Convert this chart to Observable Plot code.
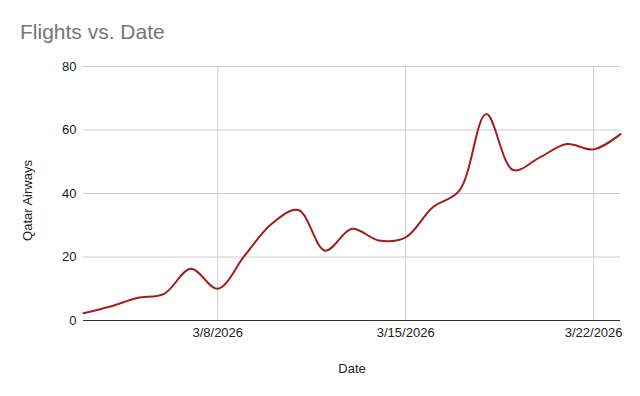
<!DOCTYPE html>
<html>
<head>
<meta charset="utf-8">
<script src="https://cdn.jsdelivr.net/npm/d3@7"></script>
<script src="https://cdn.jsdelivr.net/npm/@observablehq/plot@0.6"></script>
<style>
  html, body { margin: 0; padding: 0; background: #fff; }
  #wrap { position: relative; width: 640px; height: 396px; font-family: Arial, "Liberation Sans", sans-serif; }
  #title { position: absolute; left: 20px; top: 21px; font-size: 21px; line-height: 1; color: #757575; white-space: nowrap; }
  #chart { position: absolute; left: 0; top: 0; }
</style>
</head>
<body>
<div id="wrap">
  <div id="chart"></div>
  <div id="title">Flights vs. Date</div>
</div>
<script>
const dates = ["2026-03-03","2026-03-04","2026-03-05","2026-03-06","2026-03-07","2026-03-08","2026-03-09",
  "2026-03-10","2026-03-11","2026-03-12","2026-03-13","2026-03-14","2026-03-15","2026-03-16",
  "2026-03-17","2026-03-18","2026-03-19","2026-03-20","2026-03-21","2026-03-22","2026-03-23"];
const flights = [2.3, 4.4, 7.1, 8.4, 16.3, 10.0, 20.4, 30.4, 34.8, 22.0, 28.9, 25.2, 26.2, 35.6, 40.9, 65.0, 47.4, 51.4, 55.6, 53.9, 58.7];
const xTicks = ["2026-03-08", "2026-03-15", "2026-03-22"];
const yTicks = [0, 20, 40, 60, 80];
const xTitle = "Date";
const yTitle = "Qatar Airways";

const data = dates.map((d, i) => ({date: new Date(d + "T00:00:00Z"), value: flights[i]}));
const xTickDates = xTicks.map(d => new Date(d + "T00:00:00Z"));
const fmt = d3.utcFormat("%-m/%-d/%Y");

const chart = Plot.plot({
  width: 640,
  height: 396,
  marginTop: 66,
  marginBottom: 76,
  marginLeft: 83,
  marginRight: 20,
  style: {fontFamily: "Arial, 'Liberation Sans', sans-serif", fontSize: "13px", color: "#222", background: "#fff"},
  x: {type: "utc", domain: [data[0].date, data[data.length - 1].date]},
  y: {domain: [0, 80]},
  marks: [
    Plot.ruleY(yTicks.slice(1), {stroke: "#cccccc", strokeWidth: 1}),
    Plot.ruleX(xTickDates, {stroke: "#cccccc", strokeWidth: 1}),
    Plot.axisX({ticks: xTickDates, tickFormat: fmt, tickSize: 0, tickPadding: 7, label: null, fontSize: 13, fill: "#222"}),
    Plot.axisY({ticks: yTicks, tickSize: 0, tickPadding: 7, label: null, fontSize: 13, fill: "#222"}),
    Plot.ruleY([0], {stroke: "#333333", strokeWidth: 1}),
    Plot.line(data, {x: "date", y: "value", curve: "catmull-rom", stroke: "#a51c1c", strokeWidth: 2}),
    Plot.text([xTitle], {frameAnchor: "bottom", dy: 52, fontSize: 13, fill: "#222"}),
    Plot.text([yTitle], {frameAnchor: "left", dx: -56, dy: 7, rotate: -90, textAnchor: "middle", fontSize: 13, fill: "#222"})
  ]
});
document.getElementById("chart").appendChild(chart);
</script>
</body>
</html>
